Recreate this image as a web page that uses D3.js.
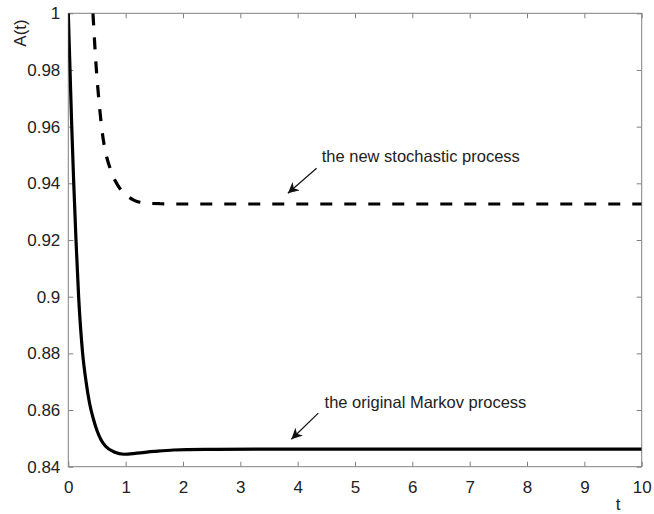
<!DOCTYPE html>
<html>
<head>
<meta charset="utf-8">
<style>
  body { margin: 0; background: #fff; }
  svg text { font-family: Arial, "Liberation Sans", sans-serif; }
</style>
</head>
<body>
<svg id="chart"></svg>
<script src="https://cdn.jsdelivr.net/npm/d3@7"></script>
<script>
// values
var markovT = [0, 0.03, 0.06, 0.095, 0.134, 0.18, 0.25, 0.31, 0.37, 0.435, 0.505, 0.57, 0.65, 0.8, 0.97, 1.2, 1.5, 1.84, 2.5, 3.5, 10]
var markovA = [1, 0.98, 0.96, 0.94, 0.92, 0.90, 0.88, 0.87, 0.8625, 0.857, 0.8525, 0.8495, 0.8472, 0.8452, 0.8444, 0.8448, 0.8454, 0.8459, 0.8461, 0.8462, 0.8462]

var newT = [0.43, 0.49, 0.54, 0.58, 0.63, 0.68, 0.74, 0.82, 0.9, 0.965, 1.05, 1.15, 1.25, 1.35, 1.6, 2, 10]
var newA = [1.0, 0.98, 0.968, 0.96, 0.953, 0.9485, 0.9447, 0.9408, 0.9382, 0.9367, 0.9352, 0.934, 0.9333, 0.933, 0.9328, 0.9327, 0.9327]

var xTicks = [0, 1, 2, 3, 4, 5, 6, 7, 8, 9, 10]
var yTicks = [0.84, 0.86, 0.88, 0.9, 0.92, 0.94, 0.96, 0.98, 1]
var yTickLabels = ["0.84", "0.86", "0.88", "0.9", "0.92", "0.94", "0.96", "0.98", "1"]

var notes = [
  { text: "the new stochastic process", t: 4.42, a: 0.9477, fromT: 4.33, fromA: 0.9453, toT: 3.83, toA: 0.9365 },
  { text: "the original Markov process", t: 4.47, a: 0.8608, fromT: 4.36, fromA: 0.8589, toT: 3.89, toA: 0.8497 }
]

width = 654
height = 514
margin = { top: 13.3, right: 12.3, bottom: 47.3, left: 68.3 }
w = width - margin.left - margin.right
h = height - margin.top - margin.bottom

svg = d3.select('#chart').attr('width', width).attr('height', height)

svg.append('defs').append('marker')
    .attr('id', 'head')
    .attr('viewBox', '0 0 10 10')
    .attr('refX', 10).attr('refY', 5)
    .attr('markerWidth', 11).attr('markerHeight', 11)
    .attr('markerUnits', 'userSpaceOnUse')
    .attr('orient', 'auto')
  .append('path')
    .attr('d', 'M0,0 L10,5 L0,10 L3,5 Z')
    .style('fill', '#111')

g = svg.append('g').attr('transform', 'translate(' + margin.left + ',' + margin.top + ')')

x = d3.scaleLinear().domain([0, 10]).range([0, w])
y = d3.scaleLinear().domain([0.84, 1]).range([h, 0])

axisColor = '#808080'

// box
g.append('rect')
    .attr('width', w).attr('height', h)
    .style('fill', 'none').style('stroke', axisColor).style('stroke-width', 1)

function styleAxis(sel, showText) {
    sel.select('.domain').remove()
    sel.selectAll('line').style('stroke', axisColor)
    sel.selectAll('text')
        .style('font-size', '17px')
        .style('fill', '#222')
        .style('display', showText ? null : 'none')
}

g.append('g').attr('transform', 'translate(0,' + h + ')')
    .call(d3.axisBottom(x).tickValues(xTicks).tickSizeInner(-5).tickSizeOuter(0).tickPadding(14))
    .call(styleAxis, true)
g.append('g')
    .call(d3.axisTop(x).tickValues(xTicks).tickSizeInner(-5).tickSizeOuter(0))
    .call(styleAxis, false)
g.append('g')
    .call(d3.axisLeft(y).tickValues(yTicks).tickFormat(function(d, i) { return yTickLabels[i] })
        .tickSizeInner(-5).tickSizeOuter(0).tickPadding(8))
    .call(styleAxis, true)
g.append('g').attr('transform', 'translate(' + w + ',0)')
    .call(d3.axisRight(y).tickValues(yTicks).tickSizeInner(-5).tickSizeOuter(0))
    .call(styleAxis, false)

// curves
line = d3.line()
    .x(function(d) { return x(d[0]) })
    .y(function(d) { return y(d[1]) })
    .curve(d3.curveMonotoneX)

clip = g.append('clipPath').attr('id', 'clip').append('rect').attr('width', w).attr('height', h)

g.append('path')
    .datum(d3.zip(markovT, markovA))
    .attr('d', line)
    .attr('clip-path', 'url(#clip)')
    .style('fill', 'none').style('stroke', '#000').style('stroke-width', 3.2)

g.append('path')
    .datum(d3.zip(newT, newA))
    .attr('d', line)
    .attr('clip-path', 'url(#clip)')
    .style('fill', 'none').style('stroke', '#000').style('stroke-width', 3.2)
    .style('stroke-dasharray', '12,12')

// annotations
notes.forEach(function(n) {
    g.append('text')
        .attr('x', x(n.t)).attr('y', y(n.a))
        .style('font-size', '16.5px').style('fill', '#222')
        .text(n.text)
    g.append('line')
        .attr('x1', x(n.fromT)).attr('y1', y(n.fromA))
        .attr('x2', x(n.toT)).attr('y2', y(n.toA))
        .style('stroke', '#111').style('stroke-width', 1.2)
        .attr('marker-end', 'url(#head)')
})

// axis labels
svg.append('text')
    .attr('x', 618).attr('y', 510)
    .attr('text-anchor', 'middle')
    .style('font-size', '17px').style('fill', '#222')
    .text('t')

svg.append('text')
    .attr('transform', 'translate(26,33) rotate(-90)')
    .attr('text-anchor', 'middle')
    .style('font-size', '17px').style('fill', '#222')
    .text('A(t)')
</script>
</body>
</html>
